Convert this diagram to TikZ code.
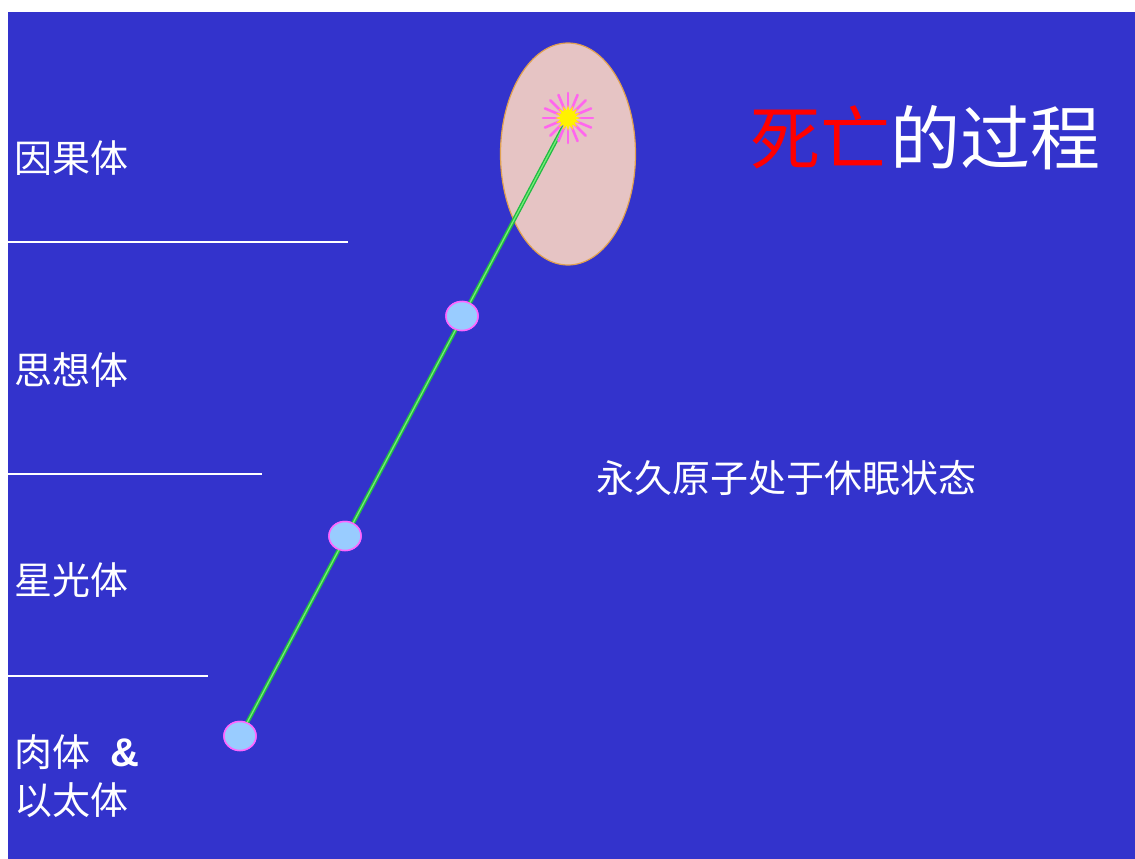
\documentclass[tikz,border=0pt]{standalone}
\usepackage{fontspec}
\setmainfont{Noto Sans CJK SC}
\newfontfamily\latinsans{Liberation Sans}
\usetikzlibrary{shapes.geometric}
\definecolor{bg}{HTML}{3333CC}
\definecolor{ellfill}{HTML}{E6C4C4}
\definecolor{elldraw}{HTML}{E0A050}
\definecolor{dotfill}{HTML}{99CCFF}
\definecolor{dotdraw}{HTML}{FF66FF}
\definecolor{lineg}{HTML}{22BB44}
\definecolor{lineglight}{HTML}{77EE77}
\definecolor{raypink}{HTML}{FF66EE}
\begin{document}
\begin{tikzpicture}[x=1pt,y=-1pt,
  lbl/.style={text=white,anchor=west,inner sep=0pt,font=\fontsize{38}{44}\selectfont},
  sep/.style={draw=white,line width=1.2pt},
  dot/.style={ellipse,minimum width=32pt,minimum height=29pt,fill=dotfill,draw=dotdraw,line width=1.5pt,inner sep=0pt},
  conn/.style={draw=lineg,double=lineglight,double distance=1.2pt,line width=1.4pt}]
\useasboundingbox (0,0) rectangle (1135,859);
\fill[white] (0,0) rectangle (1135,859);
\fill[bg] (8,12) rectangle (1135,859);
% separators
\coordinate (s1a) at (8,242); \coordinate (s1b) at (348,242);
\coordinate (s2a) at (8,474); \coordinate (s2b) at (262,474);
\coordinate (s3a) at (8,676); \coordinate (s3b) at (208,676);
\draw[sep] (s1a) -- (s1b);
\draw[sep] (s2a) -- (s2b);
\draw[sep] (s3a) -- (s3b);
% labels
\node[lbl] (l1) at (14,158) {因果体};
\node[lbl] (l2) at (14,370) {思想体};
\node[lbl] (l3) at (14,580) {星光体};
\node[lbl] (l4) at (14,752) {肉体\hspace{20pt}{\latinsans\bfseries\fontsize{40}{44}\selectfont\&}};
\node[lbl] (l5) at (14,800) {以太体};
% ellipse
\node[ellipse,minimum width=135pt,minimum height=222pt,fill=ellfill,draw=elldraw,line width=1.2pt] (ell) at (568,154) {};
% star
\coordinate (star) at (568,118);
% dots
\node[dot] (d3) at (240,736) {};
\node[dot] (d2) at (345,536) {};
\node[dot] (d1) at (462,316) {};
\draw[conn] (star) -- (d3.center);
\node[dot] at (d1) {};
\node[dot] at (d2) {};
\node[dot] at (d3) {};
\foreach \a in {0,22.5,...,340} {
  \draw[raypink,line width=2.6pt,line cap=round] (star) -- ++(\a:25);
}
\node[star,star points=16,star point ratio=1.7,minimum size=26pt,fill=yellow,inner sep=0pt] (starc) at (star) {};
\node[circle,fill=yellow,minimum size=16pt,inner sep=0pt] at (star) {};
% title
\node[anchor=west,inner sep=0pt,font=\fontsize{70}{76}\selectfont] (title) at (750,138) {\textcolor{red}{死亡}\textcolor{white}{的过程}};
% middle text
\node[anchor=west,inner sep=0pt,text=white,font=\fontsize{38}{44}\selectfont] (mid) at (596,478) {永久原子处于休眠状态};
\end{tikzpicture}
\end{document}
